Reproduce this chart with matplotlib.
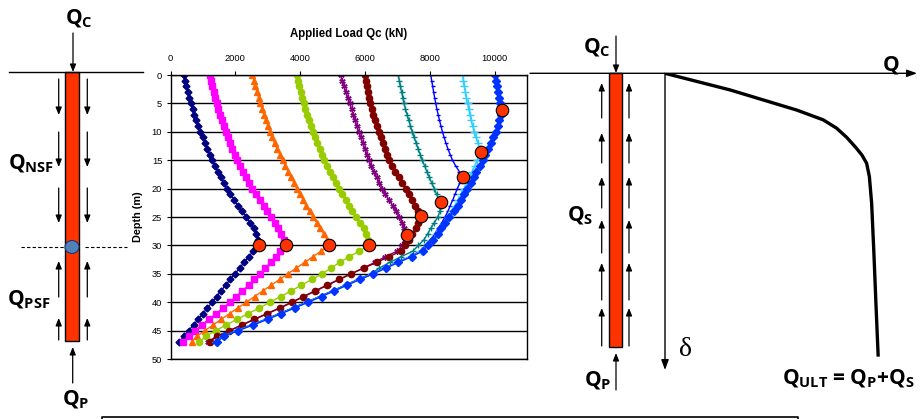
import matplotlib
matplotlib.use("Agg")
import matplotlib.pyplot as plt
from matplotlib.patches import Rectangle, Ellipse

plt.rcParams['font.family'] = ['Liberation Sans', 'DejaVu Sans']
plt.rcParams['mathtext.fontset'] = 'custom'
plt.rcParams['mathtext.rm'] = 'Open Sans:bold'
plt.rcParams['mathtext.it'] = 'Open Sans:bold'
plt.rcParams['mathtext.bf'] = 'Open Sans:bold'
plt.rcParams['mathtext.default'] = 'rm'

# ---------------- data ----------------
depth_m = [0, 1, 2, 3, 4, 5, 6, 7, 8, 9, 10, 11, 12, 13, 14, 15, 16, 17, 18, 19,
           20, 21, 22, 23, 24, 25, 26, 27, 28, 29, 30, 31, 32, 33, 34, 35, 36, 37, 38, 39,
           40, 41, 42, 43, 44, 45, 46, 47]

load_s1 = [410, 450, 490, 530, 580, 630, 680, 740, 800, 860,
           925, 990, 1060, 1130, 1210, 1290, 1370, 1460, 1550, 1640,
           1740, 1850, 1960, 2080, 2210, 2340, 2460, 2570, 2650, 2700,
           2720, 2560, 2410, 2270, 2130, 1990, 1840, 1700, 1560, 1420,
           1290, 1140, 1000, 860, 710, 560, 410, 275]
load_s2 = [1210, 1245, 1285, 1330, 1375, 1425, 1475, 1530, 1585, 1645,
           1705, 1770, 1840, 1910, 1985, 2065, 2150, 2240, 2330, 2430,
           2530, 2640, 2760, 2880, 2990, 3110, 3220, 3320, 3420, 3500,
           3540, 3390, 3240, 3090, 2930, 2770, 2590, 2410, 2220, 2030,
           1840, 1630, 1410, 1190, 970, 760, 570, 380]
load_s3 = [2530, 2575, 2620, 2670, 2720, 2770, 2825, 2880, 2940, 3000,
           3065, 3135, 3210, 3290, 3375, 3460, 3545, 3630, 3720, 3805,
           3895, 3990, 4090, 4190, 4290, 4400, 4510, 4620, 4730, 4830,
           4900, 4650, 4390, 4135, 3880, 3620, 3365, 3110, 2850, 2595,
           2340, 2080, 1825, 1570, 1315, 1060, 810, 655]
load_s4 = [3895, 3935, 3975, 4020, 4065, 4110, 4160, 4215, 4270, 4330,
           4390, 4455, 4525, 4600, 4675, 4750, 4835, 4925, 5015, 5110,
           5200, 5300, 5400, 5500, 5600, 5720, 5850, 5960, 6040, 6090,
           6120, 5820, 5520, 5220, 4950, 4680, 4360, 4040, 3720, 3400,
           3080, 2740, 2400, 2060, 1720, 1390, 1100, 890]
load_s5 = [5250, 5300, 5355, 5410, 5470, 5530, 5585, 5640, 5695, 5750,
           5810, 5870, 5930, 5995, 6060, 6120, 6195, 6275, 6360, 6445,
           6530, 6630, 6740, 6860, 6970, 7060, 7150, 7220, 7280, 7230,
           7150, 7000, 6620, 6300, 5940, 5580, 5210, 4850, 4480, 4120,
           3760, 3390, 3000, 2600, 2220, 1830, 1420, 1150]
load_s6 = [6000, 6030, 6060, 6090, 6120, 6155, 6205, 6260, 6310, 6370,
           6430, 6485, 6545, 6610, 6675, 6745, 6840, 6940, 7040, 7145,
           7255, 7360, 7460, 7550, 7640, 7700, 7630, 7560, 7460, 7350,
           7250, 7110, 6740, 6360, 5960, 5570, 5190, 4830, 4460, 4100,
           3740, 3370, 2980, 2580, 2200, 1820, 1430, 1220]
load_s7 = [7030, 7060, 7095, 7130, 7165, 7205, 7250, 7300, 7350, 7405,
           7460, 7520, 7580, 7640, 7705, 7770, 7840, 7910, 7985, 8060,
           8135, 8210, 8290, 8340, 8310, 8250, 8140, 8030, 7930, 7820,
           7650, 7480, 7110, 6760, 6440, 6190, 5790, 5390, 5000, 4600,
           4190, 3780, 3360, 2940, 2500, 2030, 1600, 1380]
load_s8 = [8030, 8060, 8090, 8120, 8150, 8185, 8220, 8260, 8300, 8345,
           8390, 8445, 8500, 8560, 8630, 8700, 8800, 8910, 9010, 8930,
           8850, 8780, 8710, 8630, 8560, 8470, 8370, 8260, 8150, 8020,
           7870, 7710, 7380, 6980, 6600, 6210, 5800, 5400, 5010, 4610,
           4200, 3790, 3370, 2950, 2510, 2040, 1610, 1390]
load_s9 = [9010, 9040, 9070, 9100, 9130, 9165, 9200, 9240, 9280, 9325,
           9370, 9430, 9490, 9550, 9540, 9470, 9390, 9310, 9230, 9145,
           9060, 8970, 8880, 8780, 8680, 8560, 8440, 8320, 8200, 8060,
           7900, 7740, 7400, 7000, 6620, 6230, 5820, 5420, 5030, 4630,
           4220, 3810, 3390, 2970, 2530, 2060, 1630, 1400]
load_s10 = [10000, 10030, 10065, 10100, 10140, 10175, 10220, 10190, 10140, 10090,
            10040, 9960, 9880, 9800, 9710, 9630, 9540, 9440, 9350, 9260,
            9160, 9070, 8970, 8880, 8740, 8600, 8470, 8360, 8250, 8100,
            7940, 7780, 7440, 7030, 6650, 6260, 5850, 5450, 5060, 4660,
            4250, 3840, 3420, 3000, 2560, 2080, 1650, 1420]

# neutral plane points (red circles)
np_load = [2730, 3550, 4900, 6120, 7290, 7720, 8340, 9040, 9580, 10230]
np_depth = [30, 30, 30, 30, 28.2, 24.8, 22.3, 17.9, 13.5, 6.1]

# load-settlement sketch (relative units, 0-100)
qd_load = [0, 25.8, 52.3, 62.8, 68.1, 72.1, 75.4, 78.1, 80.0, 81.1, 82.0, 82.9, 83.7, 84.6]
qd_settle = [0, 5.6, 12.4, 15.7, 18.5, 21.6, 24.7, 27.5, 30.3, 34.8, 43.8, 60.7, 77.5, 95.5]

all_loads = [load_s1, load_s2, load_s3, load_s4, load_s5,
             load_s6, load_s7, load_s8, load_s9, load_s10]
styles = [
    dict(color='#000080', marker='D', ms=3.5),
    dict(color='#FF00FF', marker='s', ms=4),
    dict(color='#FF6600', marker='^', ms=5),
    dict(color='#99CC00', marker='o', ms=4.5),
    dict(color='#800080', marker=(6, 2, 0), ms=4.5),
    dict(color='#800000', marker='o', ms=4.5),
    dict(color='#008080', marker='+', ms=4.5),
    dict(color='#0000FF', marker='_', ms=3.5),
    dict(color='#33CCFF', marker='+', ms=5.5),
    dict(color='#0033FF', marker='D', ms=4),
]

fig = plt.figure(figsize=(9.21, 4.19), dpi=100)

# background drawing layer in pixel units
bg = fig.add_axes([0, 0, 1, 1])
bg.set_xlim(0, 921)
bg.set_ylim(419, 0)
bg.axis('off')

PILE = '#FF3300'
QFONT = dict(fontsize=15, ha='left', va='baseline')


def arrow(x0, y0, x1, y1):
    bg.annotate('', xy=(x1, y1), xytext=(x0, y0),
                arrowprops=dict(arrowstyle='-|>,head_length=0.45,head_width=0.18',
                                color='black', lw=0.9, shrinkA=0, shrinkB=0))


# ---- left pile sketch ----
bg.plot([9, 143], [72, 72], color='black', lw=1)
bg.add_patch(Rectangle((65, 72), 14, 269, facecolor=PILE, edgecolor='black', lw=1))
arrow(73, 33, 73, 72)
for y0, y1 in [(79, 115), (132, 167), (188, 223)]:
    arrow(58.7, y0, 58.7, y1)
    arrow(87.3, y0, 87.3, y1)
for y0, y1 in [(297, 261), (340, 318)]:
    arrow(58.7, y0, 58.7, y1)
    arrow(87.3, y0, 87.3, y1)
arrow(72.7, 383, 72.7, 347)
bg.plot([21, 65], [247, 247], color='black', lw=0.8, ls=(0, (3, 2)))
bg.plot([85, 127], [247, 247], color='black', lw=0.8, ls=(0, (3, 2)))
bg.add_patch(Ellipse((72, 247), 14, 13, facecolor='#4F81BD', edgecolor='#1F3864', lw=0.8))
bg.text(65, 24, r'$Q_C$', **QFONT)
bg.text(8, 169, r'$Q_{NSF}$', **QFONT)
bg.text(7, 305, r'$Q_{PSF}$', **QFONT)
bg.text(62, 405, r'$Q_P$', **QFONT)

# ---- right pile sketch ----
bg.annotate('', xy=(917, 73.3), xytext=(530, 73.3),
            arrowprops=dict(arrowstyle='-|>,head_length=0.6,head_width=0.22',
                            color='black', lw=1, shrinkA=0, shrinkB=0))
bg.add_patch(Rectangle((609.3, 73.3), 13, 274, facecolor=PILE, edgecolor='black', lw=1))
arrow(616, 36, 616, 73)
for head, tail in [(83, 118), (133, 163), (177, 208), (220, 253), (263, 300), (308, 346)]:
    arrow(601.7, tail, 601.7, head)
    arrow(629, tail, 629, head)
arrow(616, 390, 616, 353)
bg.annotate('', xy=(665, 370), xytext=(665, 73.3),
            arrowprops=dict(arrowstyle='-|>,head_length=0.6,head_width=0.22',
                            color='black', lw=1, shrinkA=0, shrinkB=0))
bg.text(583, 53, r'$Q_C$', **QFONT)
bg.text(882, 70, r'$Q$', **QFONT)
bg.text(567, 221, r'$Q_S$', **QFONT)
bg.text(584, 386, r'$Q_P$', **QFONT)
bg.text(679, 356, 'δ', family=['Liberation Serif', 'DejaVu Serif'], fontsize=20,
        ha='left', va='baseline')
bg.text(782, 384, r'$Q_{ULT}$ = $Q_P$+$Q_S$', family=['Open Sans', 'DejaVu Sans'],
        fontweight='bold', fontsize=15, ha='left', va='baseline')

# bottom box edge
bg.plot([102, 102, 798, 798], [420, 416.5, 416.5, 420], color='black', lw=1.2)

# load-settlement curve
qax = fig.add_axes([665 / 921, 1 - 370 / 419, (917 - 665) / 921, (370 - 73.3) / 419])
qax.set_xlim(0, 100)
qax.set_ylim(100, 0)
qax.axis('off')
qax.plot(qd_load, qd_settle, color='black', lw=2.4, solid_capstyle='butt')

# ---- main chart ----
ax = fig.add_axes([170.5 / 921, 1 - 359 / 419, (527 - 170.5) / 921, (359 - 75) / 419])
for loads, st in zip(all_loads, styles):
    ax.plot(loads, depth_m, color=st['color'], lw=1, marker=st['marker'],
            ms=st['ms'], mfc=st['color'], mec=st['color'], mew=1)
ax.plot(np_load, np_depth, 'o', ms=9, mfc=PILE, mec='black', mew=0.8, zorder=5)

ax.set_xlim(0, 11000)
ax.set_ylim(50, 0)
ax.xaxis.tick_top()
ax.xaxis.set_label_position('top')
ax.set_xticks(range(0, 10001, 2000))
ax.set_yticks(range(0, 51, 5))
ax.tick_params(labelsize=6.7, length=3, width=0.8, pad=3)
ax.tick_params(axis='x', pad=6)
ax.yaxis.grid(True, color='black', lw=1)
ax.set_axisbelow(True)
for sp in ax.spines.values():
    sp.set_color('black')
    sp.set_linewidth(1)
ax.set_xlabel('Applied Load Qc (kN)', fontsize=8.3, fontweight='bold', labelpad=12)
ax.set_ylabel('Depth (m)', fontsize=7.8, fontweight='bold', labelpad=6)

fig.savefig('out.png', dpi=100)
